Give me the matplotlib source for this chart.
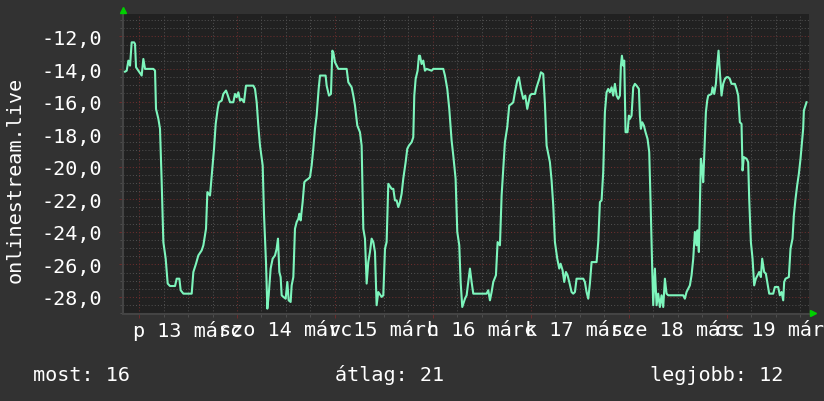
import matplotlib
matplotlib.use("Agg")
import matplotlib.pyplot as plt
from matplotlib.ticker import MultipleLocator, FuncFormatter
from matplotlib.transforms import blended_transform_factory

# hours since 13 March 00:00, value of the series
hours = [
    -3.43, -3.02, -2.61, -2.20, -1.80, -1.22, -0.98, -0.73, -0.16, 0.65, 1.06, 1.47, 3.51, 3.92,
    4.16, 4.74, 5.14, 5.55, 5.96, 6.53, 7.02, 7.59, 8.82, 9.23, 9.88, 10.20, 10.86, 12.90,
    13.31, 13.96, 14.53, 15.35, 15.76, 16.41, 16.74, 17.39, 17.80, 18.37, 18.78, 19.27, 19.59,
    20.25, 20.65, 21.31, 21.63, 22.29, 23.10, 23.51, 23.92, 24.33, 24.74, 25.14, 25.71, 26.20,
    28.00, 28.41, 28.82, 29.22, 29.63, 30.29, 30.61, 31.10, 31.43, 31.76, 32.24, 32.73, 33.31,
    33.71, 34.04, 34.37, 34.69, 34.94, 35.35, 35.92, 36.33, 36.65, 37.14, 37.39, 37.80, 38.20,
    38.61, 39.02, 39.27, 39.59, 40.08, 40.49, 40.90, 41.47, 41.88, 42.29, 42.69, 43.10, 43.51,
    44.00, 44.33, 45.71, 45.96, 46.53, 47.02, 47.35, 47.59, 48.00, 48.82, 50.86, 51.27, 52.08,
    52.49, 52.90, 53.47, 54.12, 54.53, 54.94, 55.35, 55.76, 56.16, 56.57, 56.98, 57.39, 57.80,
    58.20, 58.61, 59.43, 59.84, 60.25, 60.65, 61.06, 61.88, 62.29, 62.69, 63.10, 63.51, 63.92,
    64.33, 64.73, 65.31, 65.71, 66.12, 66.78, 67.18, 67.43, 67.76, 68.24, 68.57,
    68.82, 69.22, 69.63, 70.04, 70.45, 71.67, 72.08, 74.53, 74.94, 75.51, 76.00, 76.57, 76.98,
    77.55, 77.96, 78.45, 78.78, 79.18, 79.84, 80.25, 80.65, 81.06, 81.47, 81.88, 85.14, 85.55,
    85.96, 86.37, 86.78, 87.43, 87.84, 88.41, 88.82, 89.22, 89.63, 90.20, 90.69, 91.27, 91.67,
    92.08, 92.65, 93.06, 93.55, 94.12, 94.61, 95.10, 95.76, 96.16, 96.98, 97.39, 98.04, 98.45,
    99.02, 99.43, 99.84, 100.65, 101.06, 101.47, 101.88, 102.45, 102.94, 103.27, 103.76, 104.16,
    104.57, 104.98, 105.39, 105.96, 106.37, 106.78, 107.18, 108.82, 109.22, 109.63, 110.04,
    110.45, 110.86, 112.08, 112.49, 112.90, 113.31, 113.71, 114.12, 114.53, 114.94, 115.35,
    115.76, 116.16, 116.57, 116.98, 117.39, 117.80, 118.04, 118.29, 118.61, 118.86, 119.18,
    119.67, 120.00, 120.24, 120.65, 121.06, 121.47, 121.88, 122.45, 122.69, 122.94, 123.27,
    123.67, 124.08, 124.57, 124.98, 125.31, 125.71, 125.96, 126.37, 126.78, 127.18, 127.59,
    128.00, 128.41, 128.82, 129.22, 129.63, 133.31, 133.71, 134.12, 134.94, 135.35, 135.76,
    136.16, 136.57, 136.82, 137.14, 137.39, 137.63, 137.96, 138.20, 138.45, 138.86, 139.18,
    139.43, 140.24, 140.49, 140.90, 141.31, 141.63, 141.96, 142.29, 142.69, 143.10, 143.51,
    143.92, 144.33, 144.73, 145.14, 145.96, 146.37, 146.78, 147.18, 147.59, 147.84, 148.16,
    148.82, 149.22, 149.47, 149.88, 150.29, 150.69, 151.10, 151.51, 151.92, 152.33, 152.65,
    153.14, 153.55, 153.96, 154.37, 155.35, 155.76, 156.57, 156.98, 157.39, 157.80, 158.04,
    158.37, 159.18, 159.59, 160.08, 160.41, 160.82, 161.22, 161.63, 162.04, 162.69, 162.86,
    163.51,
]
values = [
    -14.16, -14.10, -13.48, -13.79, -12.36, -12.36, -12.46, -13.89, -14.10, -14.40, -13.38, -13.99, -13.99, -14.10,
    -16.45, -17.06, -17.67, -20.95, -24.63, -25.65, -27.18, -27.33, -27.33, -26.88, -26.88, -27.59, -27.80, -27.80,
    -26.47, -25.96, -25.45, -25.14, -24.83, -23.81, -21.56, -21.77, -20.54, -18.90, -17.37, -16.45, -16.04,
    -15.94, -15.53, -15.32, -15.53, -16.04, -16.04, -15.53, -15.73, -15.43, -15.94, -15.83, -16.04, -15.02,
    -15.02, -15.22, -16.04, -17.47, -18.70, -19.92, -22.89, -25.86, -28.72, -27.90, -26.26, -25.65, -25.45,
    -25.04, -24.42, -26.47, -26.78, -27.90, -28.00, -28.11, -27.08, -28.21, -28.31, -27.29, -26.78, -23.81,
    -23.40, -23.20, -22.89, -23.30, -22.17, -20.95, -20.84, -20.74, -20.64, -19.92, -18.90, -17.67, -16.86,
    -15.22, -14.40, -14.40, -15.02, -15.63, -15.53, -12.87, -12.97, -13.58, -13.99, -13.99, -14.81, -15.12,
    -15.63, -16.24, -17.47, -17.88, -18.70, -23.81, -24.42, -27.18, -25.86, -25.24, -24.42, -24.63, -25.24,
    -28.51, -27.70, -28.00, -27.90, -25.04, -24.63, -21.05, -21.36, -21.36, -22.07, -22.07, -22.48, -22.17,
    -21.66, -20.74, -19.72, -18.90, -18.70, -18.49, -18.19, -15.63, -14.61, -14.10, -13.18,
    -13.18, -13.69, -13.48, -14.10, -13.99, -14.10, -13.99, -13.99, -14.40, -15.22, -16.45, -18.39, -19.31,
    -20.74, -24.01, -24.83, -27.08, -28.62, -28.11, -27.90, -27.08, -26.26, -27.08, -27.80, -27.80, -27.59,
    -28.21, -27.70, -27.08, -26.67, -24.63, -24.83, -21.77, -20.13, -18.49, -17.57, -16.24, -16.14, -16.04,
    -15.43, -14.71, -14.50, -15.22, -15.83, -15.63, -16.45, -15.63, -15.53, -15.53, -15.12, -14.61, -14.20,
    -14.30, -16.14, -18.70, -19.72, -20.84, -22.38, -24.63, -25.65, -26.26, -25.96, -26.37, -27.08,
    -26.47, -26.67, -27.08, -27.70, -27.80, -27.70, -26.88, -26.88, -27.08, -27.70, -28.11,
    -27.18, -25.86, -25.86, -24.63, -22.17, -22.07, -20.33, -16.65, -15.43, -15.22, -15.43,
    -15.12, -15.63, -14.91, -15.63, -15.83, -15.63, -13.79, -13.18, -13.79, -13.48, -17.88,
    -17.88, -16.86, -17.06, -16.86, -15.12, -14.91, -15.02, -15.22, -16.86, -17.67, -17.27,
    -17.47, -17.88, -18.29, -19.10, -22.17, -26.26, -28.51, -26.26, -28.51, -27.80, -28.62,
    -27.90, -28.62, -26.88, -27.80, -27.90, -27.90, -28.11, -27.70, -27.29, -26.67, -25.65,
    -24.01, -24.83, -23.91, -25.24, -22.38, -19.51, -20.13, -20.95, -19.31, -16.65, -15.94,
    -15.63, -15.53, -15.12, -15.53, -14.91, -13.79, -12.87, -14.20, -15.63, -14.91, -14.61,
    -14.50, -14.50, -14.61, -14.91, -14.91, -15.22, -15.63, -17.27, -17.37, -20.23, -19.41,
    -19.51, -19.72, -21.97, -24.63, -25.65, -27.29, -26.88, -26.67, -26.47, -26.78, -25.65,
    -26.47, -26.57, -27.18, -27.80, -27.80, -27.39, -27.39, -27.90, -27.70, -28.21, -27.08,
    -26.88, -26.78, -25.04, -24.42, -22.99, -21.97, -21.15, -20.44, -19.51, -17.67, -16.55,
    -16.04,
]

day_names = ["p", "szo", "v", "h", "k", "sze", "cs"]
day_numbers = [13, 14, 15, 16, 17, 18, 19]
month_name = "márc"

legend_names = ["most", "átlag", "legjobb"]
legend_values = [16, 21, 12]

ylabel = "onlinestream.live"

fig_bg = "#323232"
plot_bg = "#212121"
line_color = "#7df5bc"
major_grid = "#6a2d2d"
minor_grid = "#4e4e4e"
font = "DejaVu Sans Mono"

fig = plt.figure(figsize=(8.24, 4.02), dpi=100, facecolor=fig_bg)
ax = fig.add_axes([0.1493, 0.2164, 0.8329, 0.7470], facecolor=plot_bg)

ax.plot(hours, values, color=line_color, linewidth=1.5, zorder=3)

ax.set_xlim(-3.92, 164.2)
ax.set_ylim(-29.05, -10.6)

ax.xaxis.set_major_locator(MultipleLocator(24))
ax.xaxis.set_minor_locator(MultipleLocator(6))
ax.yaxis.set_major_locator(MultipleLocator(2))
ax.yaxis.set_minor_locator(MultipleLocator(0.5))

ax.grid(which="minor", color=minor_grid, linestyle=(0, (1, 2)), linewidth=0.75)
ax.grid(which="major", color=major_grid, linestyle=(0, (1, 2)), linewidth=0.75)
ax.set_axisbelow(True)

ax.yaxis.set_major_formatter(FuncFormatter(lambda v, p: f"{v:.1f}".replace(".", ",")))
ax.xaxis.set_major_formatter(FuncFormatter(lambda v, p: ""))

ax.tick_params(axis="y", which="major", colors="white", labelsize=14.5, length=3,
               width=0.75, pad=12, color=major_grid)
ax.tick_params(axis="y", which="minor", length=2, width=0.75, color=minor_grid)
ax.tick_params(axis="x", which="major", length=3, width=0.75, color=major_grid)
ax.tick_params(axis="x", which="minor", length=2, width=0.75, color=minor_grid)
for lbl in ax.get_yticklabels():
    lbl.set_fontfamily(font)

for side in ["top", "right"]:
    ax.spines[side].set_visible(False)
for side in ["left", "bottom"]:
    ax.spines[side].set_color("#444444")
    ax.spines[side].set_linewidth(1.5)

# day labels centred at noon
trans = blended_transform_factory(ax.transData, ax.transAxes)
for i, (name, num) in enumerate(zip(day_names, day_numbers)):
    ax.text(12 + 24 * i, -0.053, f"{name} {num} {month_name}", transform=trans,
            ha="center", va="center", color="white", fontsize=14.5, family=font,
            clip_on=False)

# axis arrows
ax.plot([0], [1.014], marker="^", color="#00d000", markersize=5, transform=ax.transAxes,
        clip_on=False, zorder=5)
ax.plot([1.005], [0.003], marker=">", color="#00d000", markersize=5, transform=ax.transAxes,
        clip_on=False, zorder=5)

fig.text(0.018, 0.552, ylabel, rotation=90, ha="center", va="center", color="white",
         fontsize=14.5, family=font)

legend_x = [0.040, 0.4066, 0.789]
for x, name, val in zip(legend_x, legend_names, legend_values):
    fig.text(x, 0.067, f"{name}: {val}", ha="left", va="center", color="white",
             fontsize=14.5, family=font)

fig.savefig("out.png", dpi=100, facecolor=fig_bg)
